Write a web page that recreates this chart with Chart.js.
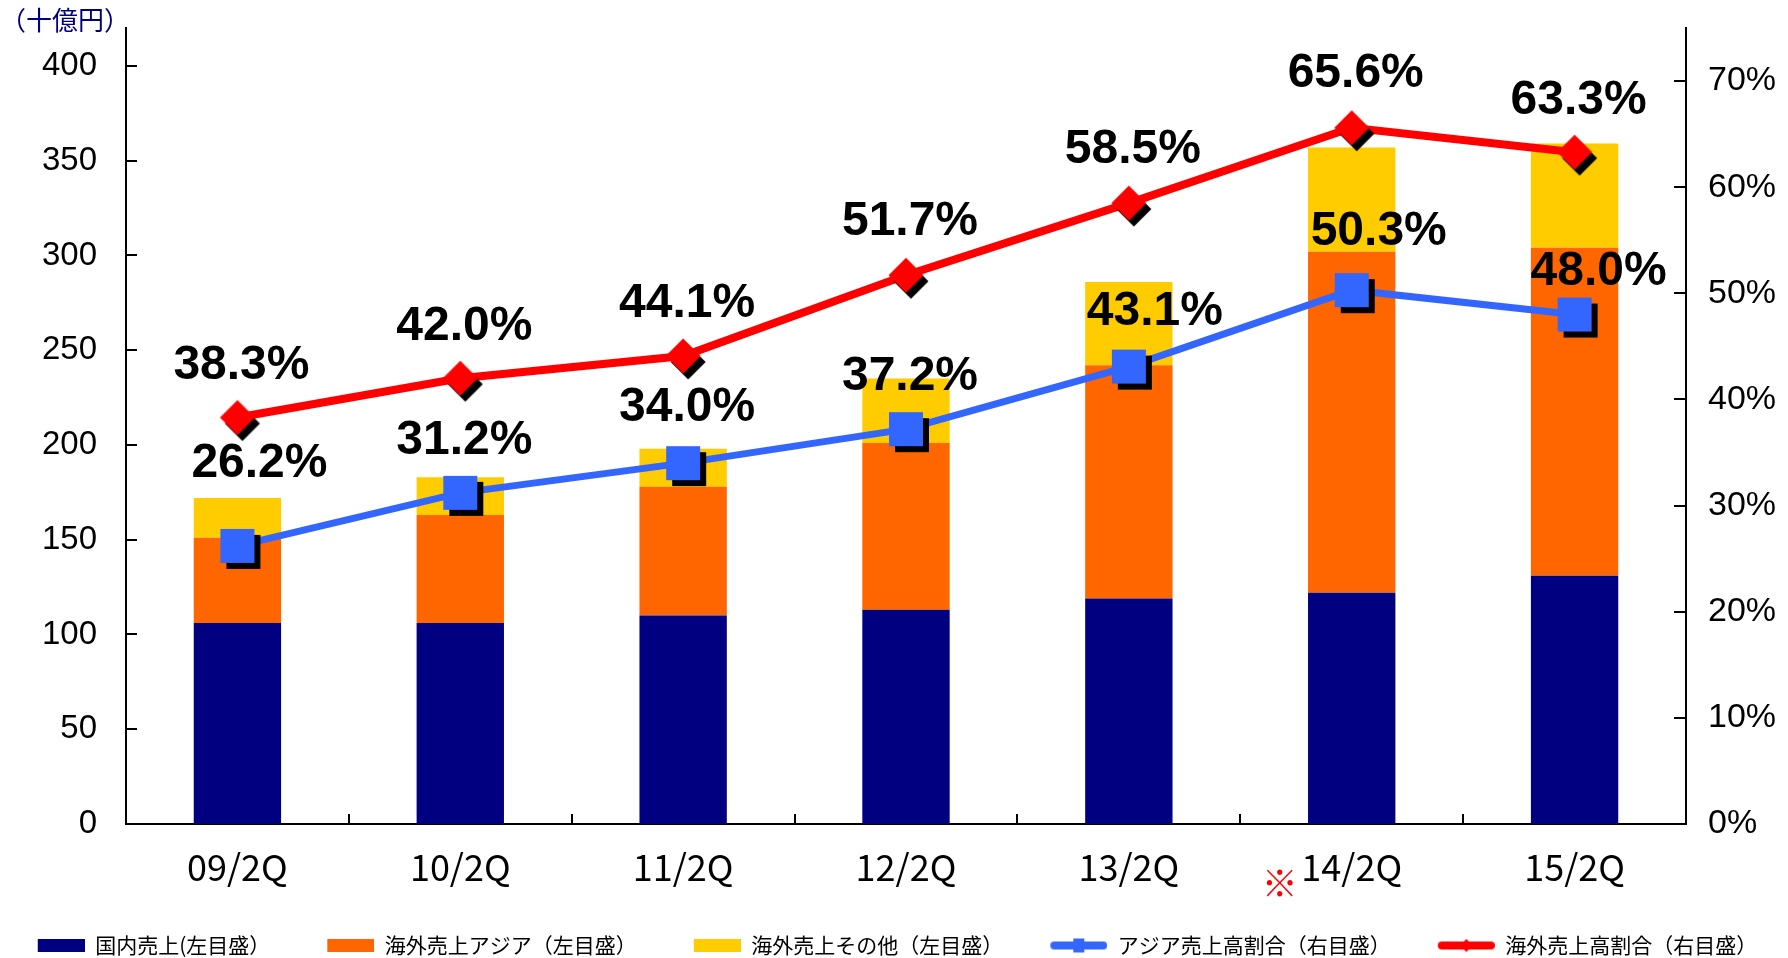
<!DOCTYPE html>
<html><head><meta charset="utf-8">
<script src="https://cdn.jsdelivr.net/npm/chart.js@4/dist/chart.umd.min.js"></script>
<style>html,body{margin:0;padding:0;background:#fff;overflow:hidden}#wrap{width:1788px;height:958px;position:relative}</style>
</head><body><div id="wrap"><canvas id="c" width="1788" height="958"></canvas></div>
<script>
// ---- data ----
const categories = ['09/2Q', '10/2Q', '11/2Q', '12/2Q', '13/2Q', '14/2Q', '15/2Q'];
const domesticSales = [106, 106, 110, 113, 119, 122, 131];
const overseasAsiaSales = [45, 57, 68, 88, 123, 180, 173];
const overseasOtherSales = [21, 20, 20, 34, 44, 55, 55];
const asiaRatio = [26.2, 31.2, 34.0, 37.2, 43.1, 50.3, 48.0];
const overseasRatio = [38.3, 42.0, 44.1, 51.7, 58.5, 65.6, 63.3];
const leftTicks = [0, 50, 100, 150, 200, 250, 300, 350, 400];
const rightTicks = [0, 10, 20, 30, 40, 50, 60, 70];
const seriesNames = ['国内売上(左目盛）', '海外売上アジア（左目盛）', '海外売上その他（左目盛）', 'アジア売上高割合（右目盛）', '海外売上高割合（右目盛）'];
const unitLabel = '（十億円）';
const noteMark = '※';
const noteIndex = 5;
// label placement (layout, not data)
const asiaLabelOffsets = [[22, -82], [4, -52], [4, -55], [4, -52], [26, -55], [27, -58], [24, -43]];
const overseasLabelOffsets = [[4, -52], [4, -51], [4, -52], [4, -54], [4, -53], [4, -54], [4, -51]];

// ---- styles ----
const NAVY = '#000080', ORANGE = '#FF6600', YELLOW = '#FFCC00', BLUE = '#3366FF', RED = '#FF0000';
const CJK = '"Noto Sans CJK JP", "Noto Sans CJK SC", sans-serif';

function mk(w, h) { const c = document.createElement('canvas'); c.width = w; c.height = h; return c; }

function squarePoint() {
  const c = mk(64, 64), g = c.getContext('2d');
  g.fillStyle = '#000'; g.fillRect(21, 21, 34, 34);
  g.fillStyle = BLUE; g.fillRect(15, 15, 34, 34);
  return c;
}
function diamond(g, cx, cy, r) {
  g.beginPath(); g.moveTo(cx, cy - r); g.lineTo(cx + r, cy); g.lineTo(cx, cy + r); g.lineTo(cx - r, cy); g.closePath(); g.fill();
}
function diamondPoint() {
  const c = mk(64, 64), g = c.getContext('2d');
  g.fillStyle = '#000'; diamond(g, 37, 38, 17.5);
  g.fillStyle = RED; diamond(g, 32, 32, 17.5);
  return c;
}
const LW = 100;
function barIcon(color) {
  const c = mk(LW, 13), g = c.getContext('2d');
  g.fillStyle = color; g.fillRect(LW - 47, 0, 47, 13);
  return c;
}
function lineIcon(color, shape) {
  const c = mk(LW, 16), g = c.getContext('2d');
  g.strokeStyle = color; g.lineWidth = 8; g.lineCap = 'round';
  g.beginPath(); g.moveTo(LW - 53, 8); g.lineTo(LW - 4, 8); g.stroke();
  g.fillStyle = color;
  const cx = LW - 28.5;
  if (shape === 'square') g.fillRect(cx - 5.5, 1, 11, 14);
  else diamond(g, cx, 8, 6.5);
  return c;
}
const legendIcons = [barIcon(NAVY), barIcon(ORANGE), barIcon(YELLOW), lineIcon(BLUE, 'square'), lineIcon(RED, 'diamond')];

const overlayPlugin = {
  id: 'overlay',
  afterDatasetsDraw(chart) {
    const ctx = chart.ctx;
    ctx.save();
    ctx.fillStyle = '#000';
    ctx.font = 'bold 48px "Liberation Sans", Arial, sans-serif';
    ctx.textAlign = 'center'; ctx.textBaseline = 'middle';
    const draw = (dsIndex, offsets) => {
      const meta = chart.getDatasetMeta(dsIndex);
      const vals = chart.data.datasets[dsIndex].data;
      meta.data.forEach((pt, i) => {
        ctx.fillText(vals[i].toFixed(1) + '%', pt.x + offsets[i][0], pt.y + offsets[i][1]);
      });
    };
    draw(4, overseasLabelOffsets);
    draw(3, asiaLabelOffsets);
    ctx.restore();
  },
  afterDraw(chart) {
    const ctx = chart.ctx, a = chart.chartArea;
    const x = chart.scales.x, y = chart.scales.y, y1 = chart.scales.y1;
    ctx.save();
    ctx.strokeStyle = '#000'; ctx.lineWidth = 2;
    ctx.beginPath();
    y.ticks.forEach(t => { const p = Math.round(y.getPixelForValue(t.value)); ctx.moveTo(a.left, p); ctx.lineTo(a.left + 11, p); });
    y1.ticks.forEach(t => { const p = Math.round(y1.getPixelForValue(t.value)); ctx.moveTo(a.right - 12, p); ctx.lineTo(a.right, p); });
    for (let i = 1; i < categories.length; i++) {
      const p = Math.round((x.getPixelForValue(i - 1) + x.getPixelForValue(i)) / 2);
      ctx.moveTo(p, a.bottom); ctx.lineTo(p, a.bottom - 10);
    }
    ctx.stroke();
    // unit label
    ctx.fillStyle = NAVY; ctx.font = '26px ' + CJK; ctx.textAlign = 'left'; ctx.textBaseline = 'middle';
    ctx.fillText(unitLabel, 0, 20);
    // note mark
    ctx.fillStyle = RED; ctx.font = '36px ' + CJK; ctx.textAlign = 'center';
    ctx.fillText(noteMark, x.getPixelForValue(noteIndex) - 72, x.top + 59);
    ctx.restore();
  }
};

new Chart(document.getElementById('c'), {
  type: 'bar',
  data: {
    labels: categories,
    datasets: [
      { label: seriesNames[0], data: domesticSales, backgroundColor: NAVY, yAxisID: 'y', stack: 's', order: 3, borderWidth: 0 },
      { label: seriesNames[1], data: overseasAsiaSales, backgroundColor: ORANGE, yAxisID: 'y', stack: 's', order: 3, borderWidth: 0 },
      { label: seriesNames[2], data: overseasOtherSales, backgroundColor: YELLOW, yAxisID: 'y', stack: 's', order: 3, borderWidth: 0 },
      { type: 'line', label: seriesNames[3], data: asiaRatio, yAxisID: 'y1', borderColor: BLUE, borderWidth: 7, pointStyle: squarePoint(), pointRadius: 20, order: 1, clip: false, tension: 0 },
      { type: 'line', label: seriesNames[4], data: overseasRatio, yAxisID: 'y1', borderColor: RED, borderWidth: 8, pointStyle: diamondPoint(), pointRadius: 20, order: 0, clip: false, tension: 0 }
    ]
  },
  options: {
    responsive: false,
    animation: false,
    events: [],
    barPercentage: 0.392,
    categoryPercentage: 1.0,
    layout: { padding: { top: 20, left: -46, right: 0, bottom: -8 } },
    plugins: {
      tooltip: { enabled: false },
      legend: {
        position: 'bottom',
        labels: {
          usePointStyle: true,
          pointStyleWidth: LW,
          padding: 4,
          color: '#000',
          font: { family: CJK, size: 21 },
          generateLabels: chart => chart.data.datasets.map((ds, i) => ({
            text: ds.label, pointStyle: legendIcons[i], fillStyle: 'rgba(0,0,0,0)', strokeStyle: 'rgba(0,0,0,0)', lineWidth: 0, hidden: false, datasetIndex: i, fontColor: '#000'
          }))
        }
      }
    },
    scales: {
      x: {
        stacked: true,
        grid: { display: false, drawTicks: false },
        border: { display: true, color: '#000', width: 2 },
        ticks: { color: '#000', padding: 22, maxRotation: 0, autoSkip: false, font: { family: CJK, size: 36 } },
        afterFit: s => { s.height = 107; }
      },
      y: {
        type: 'linear', position: 'left', stacked: true, min: 0, max: 420,
        afterBuildTicks: s => { s.ticks = leftTicks.map(v => ({ value: v })); },
        grid: { display: false, drawTicks: true, tickLength: 29 },
        border: { display: true, color: '#000', width: 2 },
        ticks: { color: '#000', padding: 0, font: { family: '"Liberation Sans", Arial, sans-serif', size: 33 } },
        afterFit: s => { s.width = 172; }
      },
      y1: {
        type: 'linear', position: 'right', stacked: false, min: 0, max: 75,
        afterBuildTicks: s => { s.ticks = rightTicks.map(v => ({ value: v })); },
        grid: { display: false, drawTicks: true, tickLength: 22 },
        border: { display: true, color: '#000', width: 2 },
        ticks: { color: '#000', padding: 0, callback: v => v + '%', font: { family: '"Liberation Sans Narrow", "Liberation Sans", Arial, sans-serif', size: 34 } },
        afterFit: s => { s.width = 102; }
      }
    }
  },
  plugins: [overlayPlugin]
});
</script></body></html>
